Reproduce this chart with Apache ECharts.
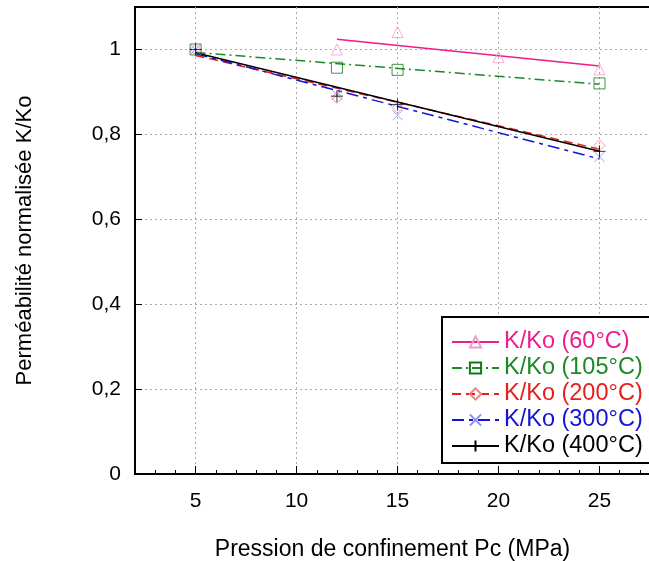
<!DOCTYPE html>
<html><head><meta charset="utf-8">
<script src="https://cdn.jsdelivr.net/npm/echarts@6/dist/echarts.min.js"></script>
<style>html,body{margin:0;padding:0;background:#fff}#c{width:649px;height:561px}</style>
</head><body><div id="c"></div>
<script>
const xTicks = [5, 10, 15, 20, 25];
const yTicks = [0, 0.2, 0.4, 0.6, 0.8, 1];
const pressures = [5, 12, 15, 20, 25];
const seriesNames = ['K/Ko (60°C)', 'K/Ko (105°C)', 'K/Ko (200°C)', 'K/Ko (300°C)', 'K/Ko (400°C)'];
const k60  = [null, 1.000, 1.041, 0.982, 0.953];
const k105 = [1.000, 0.957, 0.952, null, 0.920];
const k200 = [1.000, 0.886, 0.863, null, 0.774];
const k300 = [1.000, 0.893, 0.845, null, 0.747];
const k400 = [1.000, 0.890, 0.870, null, 0.760];
const fit60X = [12, 25];
const fit60 = [1.024, 0.961];
const fitX = [5, 25];
const fit105 = [0.993, 0.918];
const fit200 = [0.986, 0.765];
const fit300 = [0.990, 0.742];
const fit400 = [0.992, 0.760];

const FONT = 'Liberation Sans';
const styles = [
  {line: '#ee1c8c', mark: '#f59ac8', text: '#ee1c8c', symbol: 'triangle', size: 11, type: 'solid'},
  {line: '#1a8a26', mark: '#0d7a18', text: '#1a8a26', symbol: 'rect', size: 11, type: [10, 4, 2, 4]},
  {line: '#e61e1e', mark: '#f38080', text: '#e61e1e', symbol: 'diamond', size: 11, type: [9, 5]},
  {line: '#1414d2', mark: '#8c8cf0', text: '#1414d2', symbol: 'path://M0,0L10,10M0,10L10,0', size: 10, type: [12, 5, 4, 5]},
  {line: '#000000', mark: '#000000', text: '#000000', symbol: 'path://M5,0L5,10M0,5L10,5', size: 12, type: 'solid'}
];
const values = [k60, k105, k200, k300, k400];
const fits = [[fit60X, fit60], [fitX, fit105], [fitX, fit200], [fitX, fit300], [fitX, fit400]];

const series = [];
values.forEach((vals, i) => {
  const s = styles[i];
  const fx = fits[i][0], fy = fits[i][1];
  series.push({
    name: seriesNames[i], type: 'line', xAxisIndex: 0, yAxisIndex: 0,
    data: fx.map((x, j) => [x, fy[j]]),
    symbol: s.symbol, symbolSize: s.size, showSymbol: false, silent: true,
    lineStyle: {color: s.line, width: 1.5, type: s.type},
    itemStyle: {color: 'rgba(0,0,0,0)', borderColor: s.mark, borderWidth: 1},
    z: 3
  });
  series.push({
    name: seriesNames[i] + ' pts', type: 'scatter', xAxisIndex: 0, yAxisIndex: 0,
    data: pressures.map((p, j) => vals[j] == null ? null : [p, vals[j]]).filter(d => d),
    symbol: s.symbol, symbolSize: s.size, silent: true,
    itemStyle: {color: 'rgba(0,0,0,0)', borderColor: s.mark, borderWidth: 1},
    z: 4
  });
});

const fmt = v => String(v).replace('.', ',');
const chart = echarts.init(document.getElementById('c'), null, {renderer: 'canvas'});
chart.setOption({
  animation: false,
  backgroundColor: '#fff',
  grid: {left: 135, top: 7, width: 515, height: 467, outerBoundsMode: 'none', containLabel: false,
         show: true, borderColor: '#000', borderWidth: 2, backgroundColor: 'transparent'},
  legend: {
    orient: 'vertical', left: 442, top: 317,
    itemWidth: 47, itemHeight: 14, itemGap: 2,
    padding: [13, 10, 5, 9],
    backgroundColor: '#fff', borderColor: '#000', borderWidth: 2, borderRadius: 0,
    textStyle: {fontFamily: FONT, fontSize: 23.5, lineHeight: 22},
    data: seriesNames.map((n, i) => ({name: n, textStyle: {color: styles[i].text}}))
  },
  xAxis: [{
    type: 'value', min: 2, max: 27.5, position: 'bottom',
    name: 'Pression de confinement Pc (MPa)', nameLocation: 'middle', nameGap: 64,
    nameTextStyle: {fontFamily: FONT, fontSize: 23, color: '#000'},
    axisLine: {show: true, lineStyle: {color: '#000', width: 2}},
    axisTick: {show: true, inside: true, length: 8, customValues: xTicks, lineStyle: {color: '#000', width: 1}},
    axisLabel: {customValues: xTicks, fontFamily: FONT, fontSize: 21, color: '#000', margin: 17},
    splitLine: {show: true, lineStyle: {color: '#aaa', width: 1, type: [2, 3]}}
  }, {
    type: 'value', min: 2, max: 27.5, interval: 1, position: 'bottom',
    axisLine: {show: false},
    axisTick: {show: true, inside: true, length: 4, lineStyle: {color: '#000', width: 1}},
    axisLabel: {show: false},
    splitLine: {show: false}
  }],
  yAxis: [{
    type: 'value', min: 0, max: 1.1,
    name: 'Perméabilité normalisée K/Ko', nameLocation: 'middle', nameGap: 99,
    nameTextStyle: {fontFamily: FONT, fontSize: 22, color: '#000'},
    axisLine: {show: true, lineStyle: {color: '#000', width: 2}},
    axisTick: {show: true, inside: true, length: 7, customValues: yTicks, lineStyle: {color: '#000', width: 1}},
    axisLabel: {customValues: yTicks, formatter: fmt, fontFamily: FONT, fontSize: 21, color: '#000', margin: 14},
    splitLine: {show: true, lineStyle: {color: '#aaa', width: 1, type: [2, 3]}}
  }],
  series: series
});
</script></body></html>
